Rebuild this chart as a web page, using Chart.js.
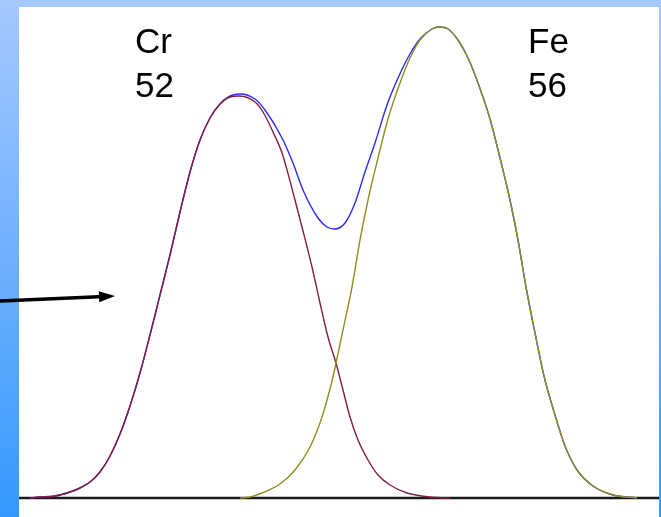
<!DOCTYPE html>
<html>
<head>
<meta charset="utf-8">
<script src="https://cdn.jsdelivr.net/npm/chart.js@4/dist/chart.umd.min.js"></script>
<style>
  html, body { margin: 0; padding: 0; }
  body {
    width: 661px; height: 517px; overflow: hidden; position: relative;
    background: linear-gradient(to bottom, #a6c8ff 0%, #6aaefe 55%, #3399ff 100%);
  }
  #sheet { position: absolute; left: 19px; top: 7px; width: 640px; height: 510px; background: #fff; }
  #chart { position: absolute; left: 0; top: 0; }
</style>
</head>
<body>
<div id="sheet"></div>
<canvas id="chart" width="661" height="517"></canvas>
<script>
// channel numbers (x) and counts (y)
const crX = [11, 21, 36, 51, 61, 71, 81, 91, 101, 111, 121, 131, 141, 151, 161, 171, 181, 191, 201, 211, 220,
  236, 244, 254, 263, 276, 283, 293, 301, 309, 317, 324, 331, 339, 349, 359, 371, 388, 411, 431];
const crY = [0, 1, 2, 6, 10, 16, 26, 42, 64, 92, 125, 163, 203, 243, 286, 326, 358, 380, 394, 401, 402,
  396, 386, 366, 345, 298, 271, 231, 195, 161, 135, 108, 81, 58, 38, 23, 13, 5, 1, 0];

const feX = [221, 231, 243, 261, 276, 291, 303, 313, 317, 324, 333, 341, 349, 359, 369, 381, 391, 401, 413, 420,
  429, 439, 449, 459, 471, 481, 491, 499, 507, 516, 525, 536, 546, 558, 574, 594, 618];
const feY = [0, 1, 5, 14, 28, 51, 81, 117, 135, 168, 211, 258, 298, 340, 379, 415, 440, 458, 469, 471,
  469, 458, 440, 415, 379, 340, 298, 258, 211, 165, 122, 83, 52, 28, 12, 3, 0];

const sumX = [11, 21, 36, 51, 61, 71, 81, 91, 101, 111, 121, 131, 141, 151, 161, 171, 181, 191, 201, 211, 221,
  236, 246, 263, 274, 284, 299, 308, 316, 326, 336, 346, 356, 368, 379, 391, 401, 413, 420,
  429, 439, 449, 459, 471, 481, 491, 499, 507, 516, 525, 536, 546, 558, 574, 594, 618];
const sumY = [0, 1, 2, 6, 10, 16, 26, 42, 64, 92, 125, 163, 203, 243, 286, 326, 358, 380, 394, 402, 404,
  399, 388, 360, 335, 308, 280, 271, 269, 275, 295, 326, 355, 393, 420, 444, 459, 469, 471,
  469, 458, 440, 415, 379, 340, 298, 258, 211, 165, 122, 83, 52, 28, 12, 3, 0];

const baseX = [0, 640];
const baseY = [0, 0];

const peakLabels = [
  { lines: ['Cr', '52'], x: 116 },
  { lines: ['Fe', '56'], x: 509 }
];
const arrowFrom = { x: -19, y: 197 };
const arrowTo = { x: 96, y: 202 };

const pts = (xs, ys) => xs.map((x, i) => ({ x: x, y: ys[i] }));

const decor = {
  id: 'decor',
  afterDraw(chart) {
    const { ctx, scales: { x, y } } = chart;
    ctx.save();
    // labels
    ctx.fillStyle = '#000';
    ctx.font = '35px "Liberation Sans", Arial, sans-serif';
    ctx.textBaseline = 'alphabetic';
    peakLabels.forEach(l => {
      const px = x.getPixelForValue(l.x);
      ctx.fillText(l.lines[0], px, 53);
      ctx.fillText(l.lines[1], px, 97);
    });
    // arrow
    const x0 = x.getPixelForValue(arrowFrom.x), y0 = y.getPixelForValue(arrowFrom.y);
    const x1 = x.getPixelForValue(arrowTo.x), y1 = y.getPixelForValue(arrowTo.y);
    const ang = Math.atan2(y1 - y0, x1 - x0);
    const headLen = 16, headW = 5.5;
    const bx = x1 - headLen * Math.cos(ang), by = y1 - headLen * Math.sin(ang);
    ctx.strokeStyle = '#000';
    ctx.lineWidth = 3.5;
    ctx.beginPath();
    ctx.moveTo(x0, y0);
    ctx.lineTo(bx, by);
    ctx.stroke();
    ctx.beginPath();
    ctx.moveTo(x1, y1);
    ctx.lineTo(bx - headW * Math.sin(ang), by + headW * Math.cos(ang));
    ctx.lineTo(bx + headW * Math.sin(ang), by - headW * Math.cos(ang));
    ctx.closePath();
    ctx.fillStyle = '#000';
    ctx.fill();
    ctx.restore();
  }
};

const line = (data, color, width) => ({
  data: data,
  borderColor: color,
  borderWidth: width,
  pointRadius: 0,
  fill: false,
  clip: false,
  cubicInterpolationMode: 'monotone'
});

new Chart(document.getElementById('chart').getContext('2d'), {
  type: 'line',
  data: {
    datasets: [
      line(pts(feX, feY), '#8f8f1f', 1.4),
      line(pts(crX, crY), '#80203a', 1.4),
      line(pts(sumX, sumY), '#2b2bff', 1.4),
      line(pts(baseX, baseY), '#1a1a1a', 2.6)
    ]
  },
  options: {
    responsive: false,
    animation: false,
    layout: { padding: { left: 19, right: 2, top: 7, bottom: 19 } },
    plugins: { legend: { display: false }, tooltip: { enabled: false } },
    scales: {
      x: { type: 'linear', min: 0, max: 640, display: false },
      y: { min: 0, max: 491, display: false }
    }
  },
  plugins: [decor]
});
</script>
</body>
</html>
